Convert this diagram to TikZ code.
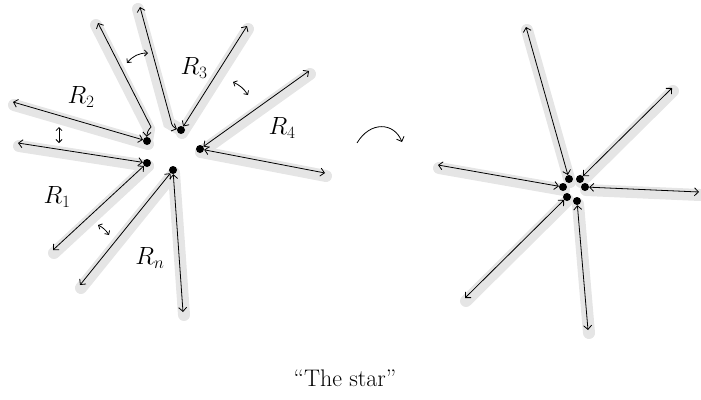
\documentclass[tikz,border=0pt]{standalone}
\usetikzlibrary{arrows.meta, backgrounds}

\tikzset{
  dot/.style={circle, fill=black, inner sep=0pt, minimum size=8pt},
  ray/.style={{Straight Barb[length=4pt,width=8pt]}-{Straight Barb[length=4pt,width=8pt]}, line width=0.8pt},
  band/.style={line width=12pt, gray!20, line cap=round},
  gap/.style={{Straight Barb[length=3pt,width=6pt]}-{Straight Barb[length=3pt,width=6pt]}, line width=0.8pt},
  lbl/.style={font=\fontsize{24}{26}\selectfont}
}

\begin{document}
\begin{tikzpicture}[x=1pt, y=-1pt]
    \useasboundingbox (0,0) rectangle (701,399);

    % --- 1. left picture: the separate regions ---
    \node[dot] (d1) at (147,163) {};
    \node[dot] (d2) at (147,141) {};
    \node[dot] (d3) at (181,130) {};
    \node[dot] (d4) at (200,149) {};
    \node[dot] (dn) at (173,170) {};

    \coordinate (ra) at (13,102);
    \coordinate (rb) at (18,143);
    \coordinate (rc) at (53,250);
    \coordinate (rd) at (80,285);
    \coordinate (re) at (183,312);
    \coordinate (rf) at (325,173);
    \coordinate (rg) at (309,71);
    \coordinate (rh) at (247,26);
    \coordinate (ri) at (140,7);
    \coordinate (rj) at (98,23);
    \coordinate (ibend) at (171,121);
    \coordinate (jbend) at (151,127);

    % grey bands behind the rays
    \begin{scope}[on background layer]
    \foreach \p/\q in {ra/d2, rb/d1, rc/d1, rd/dn, re/dn, rf/d4, rg/d4, rh/d3}
        \draw[band] ([shift={(1,3)}]\p) -- ([shift={(1,3)}]\q.center);
    \draw[band] ([shift={(-2,2)}]ri) -- ([shift={(-2,2)}]ibend) -- (d3.center);
    \draw[band] ([shift={(-2,2)}]rj) -- ([shift={(-2,2)}]jbend) -- (d2.center);
    \end{scope}

    % the rays, one pair for each region
    \draw[ray] (ra) -- (d2);
    \draw[ray] (rj) -- (jbend) to[bend right=20] (d2);
    \draw[ray] (rb) -- (d1);
    \draw[ray] (rc) -- (d1);
    \draw[ray] (rd) -- (dn);
    \draw[ray] (re) -- (dn);
    \draw[ray] (ri) -- (ibend) to[bend right=30] (d3);
    \draw[ray] (rh) -- (d3);
    \draw[ray] (rg) -- (d4);
    \draw[ray] (rf) -- (d4);

    % region names
    \node[lbl] (lR1) at (57,197) {$R_1$};
    \node[lbl] (lR2) at (81,97) {$R_2$};
    \node[lbl] (lR3) at (194,68) {$R_3$};
    \node[lbl] (lR4) at (282,128) {$R_4$};
    \node[lbl] (lRn) at (150,258) {$R_n$};

    % small gaps between neighbours
    \coordinate (g1) at (59,127);
    \coordinate (g2) at (59,143);
    \draw[gap] (g1) -- (g2);
    \coordinate (g3) at (127,63);
    \coordinate (g4) at (148,53);
    \draw[gap] (g3) to[bend left=25] (g4);
    \coordinate (g5) at (233,82);
    \coordinate (g6) at (248,95);
    \draw[gap] (g5) to[bend left=15] (g6);
    \coordinate (g7) at (98,225);
    \coordinate (g8) at (109,235);
    \draw[gap] (g7) to[bend left=15] (g8);

    % --- 2. the arrow in between ---
    \coordinate (cstart) at (357,143);
    \coordinate (cend) at (402,142);
    \draw[-{Straight Barb[length=4pt,width=8pt]}, line width=0.8pt] (cstart) .. controls (370,121) and (394,122) .. (cend);

    % --- 3. right picture: glued together ---
    \node[dot] (e1) at (569,179) {};
    \node[dot] (e2) at (580,179) {};
    \node[dot] (e3) at (563,187) {};
    \node[dot] (e4) at (585,187) {};
    \node[dot] (e5) at (567,197) {};
    \node[dot] (e6) at (577,201) {};

    \coordinate (su) at (526,27);
    \coordinate (sur) at (672,88);
    \coordinate (sl) at (438,165);
    \coordinate (sr) at (699,192);
    \coordinate (sll) at (465,298);
    \coordinate (sd) at (588,330);

    \begin{scope}[on background layer]
    \foreach \p/\q in {su/e1, sur/e2, sl/e3, sr/e4, sll/e5, sd/e6}
        \draw[band] ([shift={(1,3)}]\p) -- ([shift={(1,3)}]\q.center);
    \end{scope}

    \draw[ray] (su) -- (e1);
    \draw[ray] (sur) -- (e2);
    \draw[ray] (sl) -- (e3);
    \draw[ray] (sr) -- (e4);
    \draw[ray] (sll) -- (e5);
    \draw[ray] (sd) -- (e6);

    % --- 4. caption ---
    \node[font=\fontsize{24}{26}\selectfont] (cap) at (345,378) {``The star''};

\end{tikzpicture}
\end{document}
